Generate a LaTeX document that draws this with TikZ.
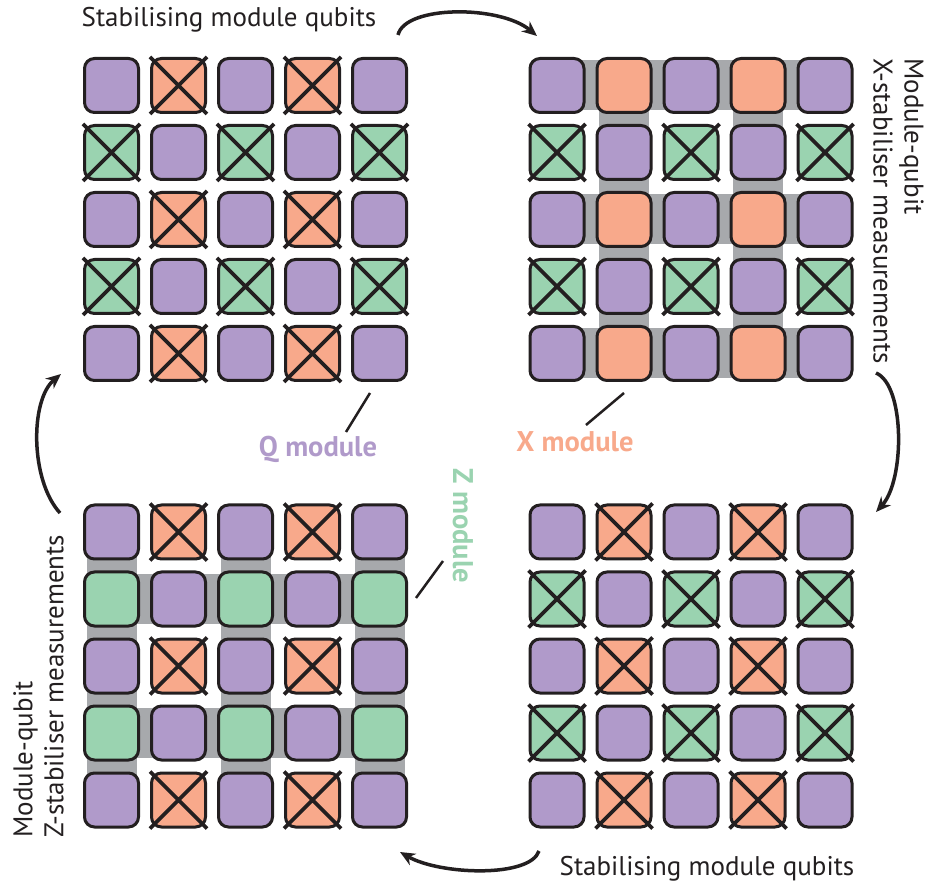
\documentclass[tikz,border=0pt]{standalone}
\usepackage{fontspec}
\setmainfont{PT Sans}
\usetikzlibrary{arrows.meta}
\definecolor{qpurple}{HTML}{B09ACA}
\definecolor{xorange}{HTML}{F8A98B}
\definecolor{zgreen}{HTML}{9AD3B0}
\definecolor{bandgray}{HTML}{A7A9AC}
\definecolor{ink}{HTML}{231F20}
\tikzset{
  cellbox/.style={draw=ink, line width=3pt, rounded corners=10pt, minimum size=54pt, inner sep=0pt},
  crossline/.style={draw=ink, line width=3.8pt},
  cyclearrow/.style={draw=ink, line width=3.5pt, -{Stealth[length=15pt,width=13pt]}},
  leader/.style={draw=ink, line width=2.5pt},
  plaintext/.style={inner sep=0pt, text=ink, font=\fontsize{27}{31}\selectfont},
  modlabel/.style={inner sep=0pt, font=\fontsize{28.5}{32}\selectfont\bfseries}
}
\newcommand\modulegrid[4]{%
  \ifnum#4=1
    \foreach \mr in {0,2,4}{\fill[bandgray] ({#2},{#3+\mr*67-25}) rectangle ({#2+268},{#3+\mr*67+25});}
    \foreach \mc in {1,3}{\fill[bandgray] ({#2+\mc*67-25},{#3}) rectangle ({#2+\mc*67+25},{#3+268});}
  \fi
  \ifnum#4=2
    \foreach \mr in {1,3}{\fill[bandgray] ({#2},{#3+\mr*67-25}) rectangle ({#2+268},{#3+\mr*67+25});}
    \foreach \mc in {0,2,4}{\fill[bandgray] ({#2+\mc*67-25},{#3}) rectangle ({#2+\mc*67+25},{#3+268});}
  \fi
  \foreach \mr in {0,...,4}{
    \foreach \mc in {0,...,4}{
      \pgfmathtruncatemacro\mt{mod(\mr,2)*2+mod(\mc,2)}
      \ifcase\mt \def\mcol{qpurple}\or\def\mcol{xorange}\or\def\mcol{zgreen}\else\def\mcol{qpurple}\fi
      \node[cellbox, fill=\mcol] (#1-\mr-\mc) at ({#2+\mc*67},{#3+\mr*67}) {};
      \def\mx{0}
      \ifnum#4=0 \ifnum\mt=1 \def\mx{1}\fi \ifnum\mt=2 \def\mx{1}\fi\fi
      \ifnum#4=1 \ifnum\mt=2 \def\mx{1}\fi\fi
      \ifnum#4=2 \ifnum\mt=1 \def\mx{1}\fi\fi
      \ifnum\mx=1 \draw[crossline] (#1-\mr-\mc.north west) -- (#1-\mr-\mc.south east) (#1-\mr-\mc.north east) -- (#1-\mr-\mc.south west);\fi
    }
  }
}
\begin{document}
\begin{tikzpicture}[x=1pt,y=-1pt]
\useasboundingbox (0,0) rectangle (930,882);
\modulegrid{Q}{111.5}{85.5}{0}
\modulegrid{X}{557}{85.5}{1}
\modulegrid{Z}{111.5}{532}{2}
\modulegrid{R}{557}{532}{0}

% texts
\node[plaintext, anchor=base] (toptext) at (229,26.7) {Stabilising module qubits};
\node[plaintext, anchor=base] (bottext) at (707,875) {Stabilising module qubits};
\node[plaintext, rotate=-90, anchor=north west, align=left] (righttext) at (924,58) {Module-qubit\\X-stabiliser measurements};
\node[plaintext, rotate=90, anchor=north west, align=left] (lefttext) at (13,838) {Module-qubit\\Z-stabiliser measurements};

\node[modlabel, text=qpurple, anchor=base] (qlab) at (318,457) {Q module};
\node[modlabel, text=xorange, anchor=base] (xlab) at (575,452) {X module};
\node[modlabel, text=zgreen, rotate=-90] (zlab) at (463,526) {Z module};

% leader lines
\coordinate (qa) at (370,393); \coordinate (qb) at (346,432);
\coordinate (xa) at (624,393); \coordinate (xb) at (586,425);
\coordinate (za) at (443,561); \coordinate (zb) at (416,598);
\draw[leader] (qa) -- (qb);
\draw[leader] (xa) -- (xb);
\draw[leader] (za) -- (zb);

% cycle arrows
\coordinate (t1) at (398,35); \coordinate (t2) at (537,36);
\coordinate (r1) at (876,373); \coordinate (r2) at (876,512);
\coordinate (b1) at (539,851); \coordinate (b2) at (400,852);
\coordinate (l1) at (60,513); \coordinate (l2) at (61,374);
\draw[cyclearrow] (t1) .. controls (405,5) and (500,5) .. (t2);
\draw[cyclearrow] (r1) .. controls (905,385) and (905,480) .. (r2);
\draw[cyclearrow] (b1) .. controls (530,878) and (440,875) .. (b2);
\draw[cyclearrow] (l1) .. controls (30,480) and (30,400) .. (l2);
\end{tikzpicture}
\end{document}
